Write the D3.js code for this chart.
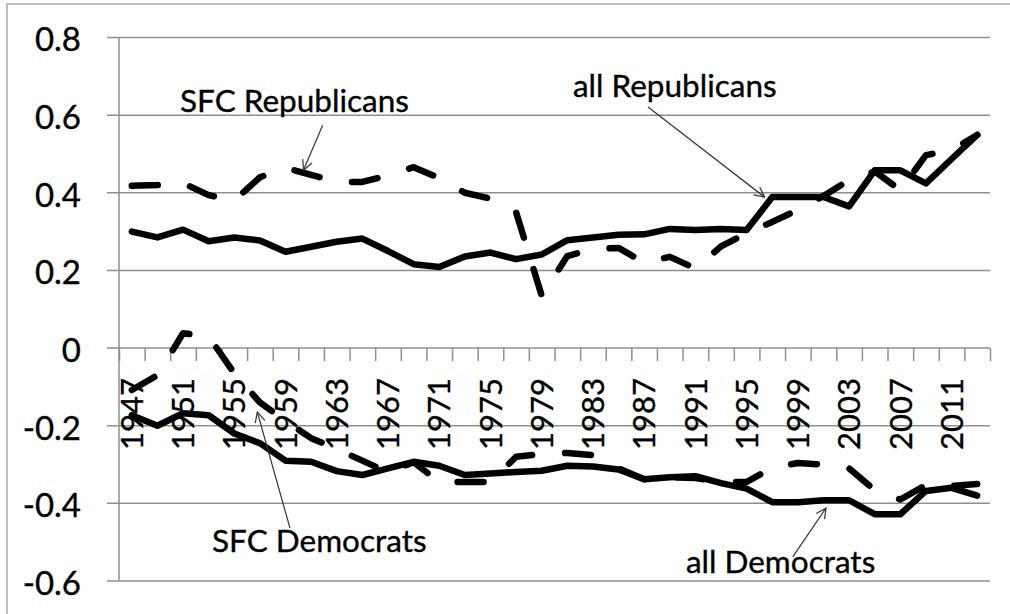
<!DOCTYPE html>
<html>
<head>
<meta charset="utf-8">
<script src="https://cdn.jsdelivr.net/npm/d3@7/dist/d3.min.js"></script>
<style>
  html, body { margin: 0; padding: 0; background: #fff; }
  svg { display: block; }
  text { font-family: Lato, "Open Sans", sans-serif; fill: #000; stroke: #000; stroke-width: 0.35px; }
</style>
</head>
<body>
<svg id="chart" width="1010" height="614"></svg>
<script>
// ---- data ----
const years = d3.range(1947, 2014, 2); // 1947 ... 2013 (34 congresses)
const allRepublicans = [0.300, 0.285, 0.305, 0.275, 0.285, 0.277, 0.248, 0.261, 0.274, 0.282,
  0.250, 0.216, 0.209, 0.236, 0.246, 0.229, 0.241, 0.278, 0.285, 0.292,
  0.293, 0.307, 0.304, 0.307, 0.304, 0.389, 0.389, 0.389, 0.365, 0.458,
  0.458, 0.424, 0.487, 0.549];
const sfcRepublicans = [0.418, 0.420, 0.425, 0.394, 0.380, 0.440, 0.464, 0.446, 0.428, 0.428,
  0.445, 0.466, 0.438, 0.400, 0.385, 0.350, 0.135, 0.237, 0.255, 0.258,
  0.220, 0.235, 0.205, 0.262, 0.296, 0.325, 0.356, 0.392, 0.433, 0.455,
  0.407, 0.497, 0.510, 0.549];
const allDemocrats = [-0.173, -0.200, -0.168, -0.173, -0.220, -0.245, -0.290, -0.293, -0.317, -0.327,
  -0.310, -0.293, -0.303, -0.327, -0.323, -0.319, -0.316, -0.303, -0.305, -0.313,
  -0.338, -0.333, -0.330, -0.348, -0.362, -0.397, -0.397, -0.392, -0.392, -0.428,
  -0.428, -0.368, -0.360, -0.380];
const sfcDemocrats = [-0.108, -0.070, 0.038, 0.030, -0.065, -0.140, -0.188, -0.232, -0.260, -0.290,
  -0.320, -0.294, -0.345, -0.345, -0.345, -0.280, -0.273, -0.270, -0.276, -0.310,
  -0.338, -0.333, -0.335, -0.345, -0.345, -0.308, -0.296, -0.300, -0.310, -0.366,
  -0.390, -0.353, -0.355, -0.350];
const yTickValues = [0.8, 0.6, 0.4, 0.2, 0, -0.2, -0.4, -0.6];
const yTickLabels = ["0.8", "0.6", "0.4", "0.2", "0", "-0.2", "-0.4", "-0.6"];
const xTickLabels = ["1947","1951","1955","1959","1963","1967","1971","1975","1979",
  "1983","1987","1991","1995","1999","2003","2007","2011"];

// annotation anchors in data units (year, value)
const annotations = [
  { text: "SFC Republicans", tx: 1950.76, ty: 0.608, fx: 1961.9, fy: 0.574, ax: 1960.4, ay: 0.458 },
  { text: "all Republicans", tx: 1981.44, ty: 0.647, fx: 1987.3, fy: 0.621, ax: 1996.4, ay: 0.389 },
  { text: "SFC Democrats",   tx: 1953.26, ty: -0.525, fx: 1959.35, fy: -0.464, ax: 1956.8, ay: -0.165 },
  { text: "all Democrats",   tx: 1990.26, ty: -0.580, fx: 1998.6, fy: -0.538, ax: 2001.2, ay: -0.412 }
];

// ---- layout ----
const svg = d3.select("#chart");
const plotL = 119, plotR = 990, plotT = 37.5, plotB = 581;
const x = d3.scaleLinear().domain([1946, 2014]).range([plotL, plotR]);
const y = d3.scaleLinear().domain([-0.6, 0.8]).range([plotB, plotT]);
const gridColor = "#8f8f8f";

// outer frame (partly off-canvas on right/bottom)
svg.append("rect").attr("x", 7).attr("y", 4).attr("width", 1020).attr("height", 630)
  .attr("fill", "none").attr("stroke", "#a8a8a8").attr("stroke-width", 1.5);

// gridlines + y ticks
svg.append("g").selectAll("line").data(yTickValues).join("line")
  .attr("x1", plotL - 12).attr("x2", plotR)
  .attr("y1", d => y(d)).attr("y2", d => y(d))
  .attr("stroke", gridColor).attr("stroke-width", 1.5);

// y axis line
svg.append("line").attr("x1", plotL).attr("x2", plotL).attr("y1", y(0.8)).attr("y2", y(-0.6))
  .attr("stroke", gridColor).attr("stroke-width", 1.5);

// y labels
svg.append("g").selectAll("text").data(yTickValues).join("text")
  .attr("x", 81).attr("y", d => y(d) + 2).attr("dy", "0.36em")
  .attr("text-anchor", "end").style("font-size", "33px")
  .text((d, i) => yTickLabels[i]);

// x axis (category boundaries as ticks) at y=0
const xAxis = d3.axisBottom(x)
  .tickValues(d3.range(1946, 2015, 2))
  .tickSize(13).tickSizeOuter(0).tickFormat("");
const gx = svg.append("g").attr("transform", `translate(0,${y(0)})`).call(xAxis);
gx.select(".domain").remove();
gx.selectAll(".tick line").attr("stroke", gridColor).attr("stroke-width", 1.5);

// x labels, rotated
svg.append("g").selectAll("text").data(xTickLabels).join("text")
  .attr("transform", d => `translate(${x(+d)},${y(0) + 30}) rotate(-90)`)
  .attr("dy", "0.36em").attr("text-anchor", "end").style("font-size", "31px")
  .text(d => d);

// series lines
const line = d3.line().x((d, i) => x(years[i])).y(d => y(d));
function drawSeries(vals, dashed) {
  svg.append("path").datum(vals)
    .attr("d", line).attr("fill", "none").attr("stroke", "#000")
    .attr("stroke-width", 6.5).attr("stroke-linejoin", "round").attr("stroke-linecap", "round")
    .attr("stroke-dasharray", dashed ? "26,33" : null);
}
drawSeries(allRepublicans, false);
drawSeries(allDemocrats, false);
drawSeries(sfcRepublicans, true);
drawSeries(sfcDemocrats, true);

// arrow marker
svg.append("defs").append("marker")
  .attr("id", "arr").attr("viewBox", "0 0 12 12").attr("refX", 11).attr("refY", 6)
  .attr("markerWidth", 12).attr("markerHeight", 12).attr("markerUnits", "userSpaceOnUse")
  .attr("orient", "auto")
  .append("path").attr("d", "M1,1 L11,6 L1,11").attr("fill", "none")
  .attr("stroke", "#333").attr("stroke-width", 1.2);

// annotations
const ga = svg.append("g");
ga.selectAll("line").data(annotations).join("line")
  .attr("x1", d => x(d.fx)).attr("y1", d => y(d.fy))
  .attr("x2", d => x(d.ax)).attr("y2", d => y(d.ay))
  .attr("stroke", "#333").attr("stroke-width", 1.2).attr("marker-end", "url(#arr)");
ga.selectAll("text").data(annotations).join("text")
  .attr("x", d => x(d.tx)).attr("y", d => y(d.ty))
  .style("font-size", "31.5px").text(d => d.text);
</script>
</body>
</html>
